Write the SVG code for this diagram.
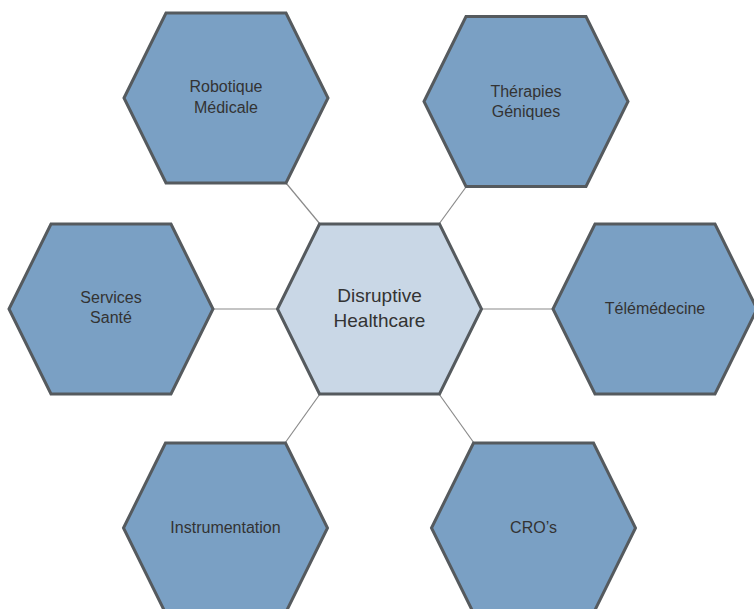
<svg xmlns="http://www.w3.org/2000/svg" width="754" height="609" viewBox="0 0 754 609">
<defs>
<polygon id="hex" points="-102,0 -60,-85 60,-85 102,0 60,85 -60,85"/>
</defs>
<style>
.outer{fill:#7aa0c4;stroke:#555a5e;stroke-width:3;stroke-linejoin:miter}
.center{fill:#c9d7e6;stroke:#555a5e;stroke-width:3}
.lbl{font-family:"Liberation Sans",Arial,sans-serif;font-size:16px;fill:#333;text-anchor:middle}
.clbl{font-family:"Liberation Sans",Arial,sans-serif;font-size:19px;fill:#333;text-anchor:middle}
.conn{stroke:#8a8a8a;stroke-width:1.2;fill:none}
</style>
<rect width="754" height="609" fill="#ffffff"/>
<g id="connectors">
<line class="conn" x1="286" y1="183" x2="320" y2="224"/>
<line class="conn" x1="466" y1="187" x2="439" y2="224"/>
<line class="conn" x1="212" y1="309" x2="277" y2="309"/>
<line class="conn" x1="554" y1="309" x2="482" y2="309"/>
<line class="conn" x1="285" y1="443" x2="320" y2="394"/>
<line class="conn" x1="474" y1="443" x2="439" y2="394"/>
</g>
<g id="node-center">
<use href="#hex" class="center" transform="translate(379.5,309)"/>
<text class="clbl" x="379.5" y="302">Disruptive</text>
<text class="clbl" x="379.5" y="327">Healthcare</text>
</g>
<g id="node-robotique">
<use href="#hex" class="outer" transform="translate(226,98)"/>
<text class="lbl" x="226" y="92">Robotique</text>
<text class="lbl" x="226" y="113">Médicale</text>
</g>
<g id="node-therapies">
<use href="#hex" class="outer" transform="translate(526,101.5)"/>
<text class="lbl" x="526" y="97">Thérapies</text>
<text class="lbl" x="526" y="117">Géniques</text>
</g>
<g id="node-services">
<use href="#hex" class="outer" transform="translate(111,309)"/>
<text class="lbl" x="111" y="303">Services</text>
<text class="lbl" x="111" y="323">Santé</text>
</g>
<g id="node-telemedecine">
<use href="#hex" class="outer" transform="translate(655,309)"/>
<text class="lbl" x="655" y="314">Télémédecine</text>
</g>
<g id="node-instrumentation">
<use href="#hex" class="outer" transform="translate(225.5,528)"/>
<text class="lbl" x="225.5" y="533">Instrumentation</text>
</g>
<g id="node-cros">
<use href="#hex" class="outer" transform="translate(533.5,528)"/>
<text class="lbl" x="533.5" y="533">CRO’s</text>
</g>
</svg>
